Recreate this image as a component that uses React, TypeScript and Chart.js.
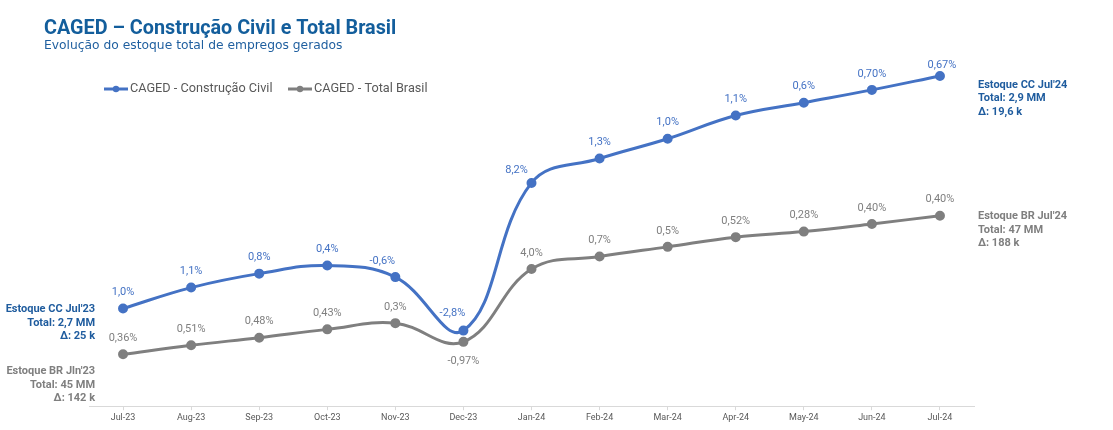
import React, { useEffect, useRef } from "react";
import { Chart, registerables } from "chart.js";

Chart.register(...registerables);

// ---- data ----
const months = ["Jul-23", "Aug-23", "Sep-23", "Oct-23", "Nov-23", "Dec-23", "Jan-24", "Feb-24", "Mar-24", "Apr-24", "May-24", "Jun-24", "Jul-24"];
// estimated stock (thousand jobs)
const stockCC = [2700, 2718, 2730, 2737, 2727, 2681, 2808, 2829, 2846, 2866, 2877, 2888, 2900];
const stockBR = [45000, 45130, 45240, 45360, 45450, 45180, 46230, 46410, 46550, 46690, 46770, 46880, 47000];
// monthly change labels
const labelsCC = ["1,0%", "1,1%", "0,8%", "0,4%", "-0,6%", "-2,8%", "8,2%", "1,3%", "1,0%", "1,1%", "0,6%", "0,70%", "0,67%"];
const labelsBR = ["0,36%", "0,51%", "0,48%", "0,43%", "0,3%", "-0,97%", "4,0%", "0,7%", "0,5%", "0,52%", "0,28%", "0,40%", "0,40%"];
const seriesNames = ["CAGED - Construção Civil", "CAGED - Total Brasil"];
const startCC = ["Estoque CC Jul'23", "Total: 2,7 MM", "Δ: 25 k"];
const startBR = ["Estoque BR Jln'23", "Total: 45 MM", "Δ: 142 k"];
const endCC = ["Estoque CC Jul'24", "Total: 2,9 MM", "Δ: 19,6 k"];
const endBR = ["Estoque BR Jul'24", "Total: 47 MM", "Δ: 188 k"];
const titleText = "CAGED – Construção Civil e Total Brasil";
const subtitleText = "Evolução do estoque total de empregos gerados";

const BLUE = "#4472C4";
const GRAY = "#7F7F7F";
const TITLE_BLUE = "#135E9C";
const NOTE_BLUE = "#1F5C9E";

// label offsets (styling only): [dx, dy]
const labelOffsets: Record<number, Record<number, [number, number]>> = {
  0: { 4: [-13, -16], 5: [-11, -17], 6: [-15, -13], 12: [2, -11] },
  1: { 5: [0, 19] },
};

const textPlugin = {
  id: "textPlugin",
  afterDatasetsDraw(chart: any) {
    const ctx = chart.ctx;
    ctx.save();
    ctx.font = "11px Roboto";
    ctx.textAlign = "center";
    ctx.textBaseline = "middle";
    const allLabels = [labelsCC, labelsBR];
    chart.data.datasets.forEach((ds: any, di: number) => {
      const meta = chart.getDatasetMeta(di);
      ctx.fillStyle = di === 0 ? BLUE : GRAY;
      meta.data.forEach((pt: any, i: number) => {
        const off = (labelOffsets[di] && labelOffsets[di][i]) || [0, -16];
        ctx.fillText(allLabels[di][i], pt.x + off[0], pt.y + off[1]);
      });
    });
    ctx.restore();
  },
  afterDraw(chart: any) {
    const ctx = chart.ctx;
    ctx.save();
    // title
    ctx.textAlign = "left";
    ctx.textBaseline = "alphabetic";
    ctx.fillStyle = TITLE_BLUE;
    ctx.font = "bold 19.8px Roboto";
    ctx.fillText(titleText, 44, 34);
    ctx.font = "12.3px 'DejaVu Sans'";
    ctx.fillStyle = "#1F5F9F";
    ctx.fillText(subtitleText, 44, 49);

    // legend
    const colors = [BLUE, GRAY];
    const legendX = [104, 288];
    const ly = 89;
    ctx.font = "12.7px Roboto";
    ctx.textBaseline = "middle";
    seriesNames.forEach((n, k) => {
      const x0 = legendX[k];
      ctx.strokeStyle = colors[k];
      ctx.lineWidth = 3;
      ctx.beginPath();
      ctx.moveTo(x0, ly);
      ctx.lineTo(x0 + 24, ly);
      ctx.stroke();
      ctx.fillStyle = colors[k];
      ctx.beginPath();
      ctx.arc(x0 + 12, ly, 3.2, 0, Math.PI * 2);
      ctx.fill();
      ctx.fillStyle = "#595959";
      ctx.fillText(n, x0 + 26, ly);
    });

    // annotations
    const mCC = chart.getDatasetMeta(0).data;
    const mBR = chart.getDatasetMeta(1).data;
    const first = 0;
    const last = months.length - 1;
    ctx.font = "bold 11px Roboto";
    const block = (lines: string[], x: number, y: number, align: string, color: string) => {
      ctx.textAlign = align;
      ctx.fillStyle = color;
      lines.forEach((l, i) => ctx.fillText(l, x, y + i * 13.5));
    };
    block(startCC, mCC[first].x - 28, mCC[first].y + 1, "right", NOTE_BLUE);
    block(startBR, mBR[first].x - 28, mBR[first].y + 17, "right", GRAY);
    block(endCC, mCC[last].x + 38, mCC[last].y + 9, "left", NOTE_BLUE);
    block(endBR, mBR[last].x + 38, mBR[last].y + 1, "left", GRAY);
    ctx.restore();
  },
};

export default function App() {
  const ref = useRef<HTMLCanvasElement>(null);
  useEffect(() => {
    if (!ref.current) return;
    const chart = new Chart(ref.current, {
      type: "line",
      data: {
        labels: months,
        datasets: [
          {
            label: seriesNames[0],
            data: stockCC,
            borderColor: BLUE,
            backgroundColor: BLUE,
            borderWidth: 3,
            pointRadius: 3.5,
            pointHoverRadius: 3.5,
            tension: 0.4,
            yAxisID: "y",
          },
          {
            label: seriesNames[1],
            data: stockBR,
            borderColor: GRAY,
            backgroundColor: GRAY,
            borderWidth: 3,
            pointRadius: 3.5,
            pointHoverRadius: 3.5,
            tension: 0.4,
            yAxisID: "y2",
          },
        ],
      },
      options: {
        responsive: false,
        animation: false,
        events: [],
        layout: { padding: { left: 89, right: 139, top: 60, bottom: 5 } },
        plugins: {
          legend: { display: false },
          title: { display: false },
          tooltip: { enabled: false },
        },
        scales: {
          x: {
            offset: true,
            grid: { drawOnChartArea: false, drawTicks: true, tickLength: 4, color: "#D9D9D9" },
            border: { display: true, color: "#D9D9D9" },
            ticks: { font: { family: "Roboto", size: 9 }, color: "#595959", padding: 2, maxRotation: 0, autoSkip: false },
          },
          y: { display: false, min: 2616, max: 2913.7 },
          y2: { display: false, min: 44252, max: 49245 },
        },
      },
      plugins: [textPlugin],
    });
    return () => chart.destroy();
  }, []);
  return (
    <div style={{ position: "fixed", left: 0, top: 0, width: 1113, height: 430, background: "#fff" }}>
      <canvas ref={ref} width={1113} height={430} style={{ width: 1113, height: 430, display: "block" }} />
    </div>
  );
}
